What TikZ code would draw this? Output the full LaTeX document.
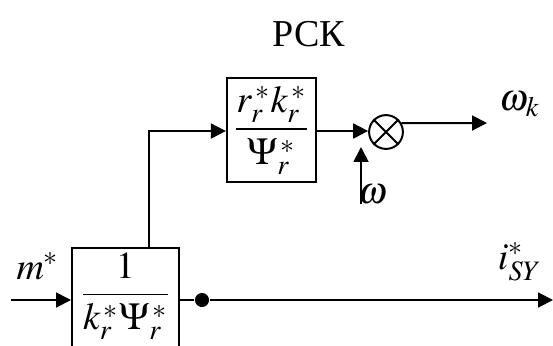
\documentclass[tikz,border=0pt]{standalone}
\usepackage{amsmath}
\usepackage{mathptmx}
\usepackage[no-math]{fontspec}
\setmainfont{Liberation Serif}
\usepackage{tikz}
\usetikzlibrary{arrows.meta,positioning}
\definecolor{ink}{HTML}{000000}
\tikzset{
  blk/.style={draw=ink,line width=0.7pt,inner sep=0pt,fill=white},
  mulc/.style={draw=ink,circle,line width=0.7pt,minimum size=12pt,inner sep=0pt},
  arr/.style={-{Triangle[length=5.3pt,width=5.3pt]},line width=0.7pt,color=ink},
  ln/.style={line width=0.7pt,color=ink},
  lbl/.style={inner sep=0pt,color=ink}}

\begin{document}
\begin{tikzpicture}[x=0.355pt,y=-0.355pt,font=\fontsize{13.5}{16}\selectfont]
\useasboundingbox (0,0) rectangle (553,345);
\clip (0,0) rectangle (553,345);
% title
\node[lbl] (title) at (309,34) {РСК};
% blocks
\node[blk,minimum width=31.7pt,minimum height=36.9pt] (gain) at (271.5,130) {$\dfrac{r_r^{\,*}k_r^{\,*}}{\Psi_r^{\,*}}$};
\node[blk,anchor=north,minimum width=38pt,text height=19.8pt,text depth=25pt] (inv) at (125.5,247) {$\dfrac{1}{k_r^{\,*}\Psi_r^{\,*}}$};
\node[mulc] (mul) at (386,132) {};
\draw[ln] (mul.45) -- (mul.225) (mul.135) -- (mul.-45);
\node[circle,fill=ink,minimum size=5pt,inner sep=0pt] (dot) at (202,300) {};
% free ends
\coordinate (in) at (11,300);
\coordinate (out) at (553,300);
\coordinate (brk) at (149,131);
\coordinate (wk) at (487,123);
\coordinate (omfoot) at (361,204);
\coordinate (omtip) at (361,147);
% labels
\node[lbl] (m) at (38,266) {$m^*$};
\node[lbl] (isy) at (520,262) {$i_{SY}^*$};
\node[lbl] (omk) at (520,104) {$\omega_k$};
\node[lbl] (om) at (373,194) {$\omega$};
% connectors
\draw[arr] (in) -- (in -| inv.west);
\draw[ln] (in -| inv.east) -- (dot);
\draw[arr] (dot) -- (out);
\draw[arr] (brk |- inv.north) -- (brk) -- (gain.west |- brk);
\draw[arr] (gain.east |- brk) -- (mul.west |- brk);
\draw[arr] (mul.30) -- (wk);
\draw[arr] (omfoot) -- (omtip);
\end{tikzpicture}
\end{document}
